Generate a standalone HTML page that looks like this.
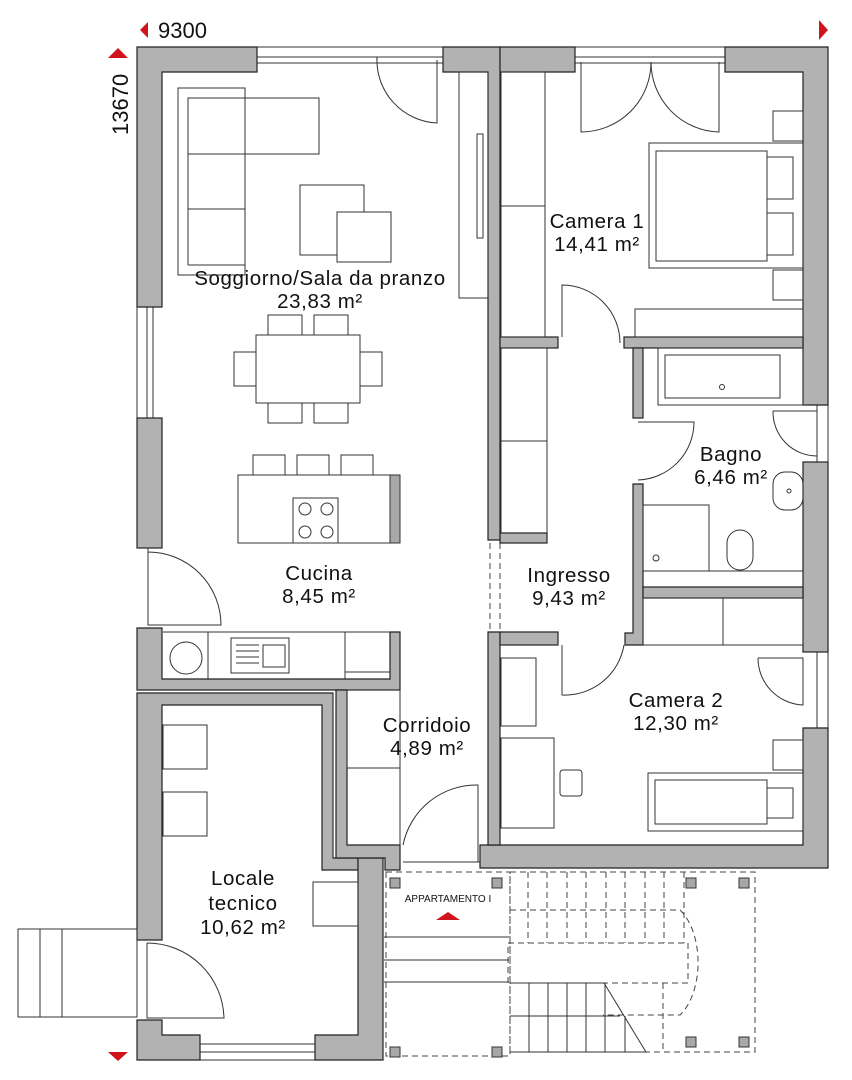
<!DOCTYPE html>
<html><head><meta charset="utf-8"><style>
html,body{margin:0;padding:0;background:#fff}
svg{display:block}
.w{fill:#b2b2b2;stroke:#222;stroke-width:1.2}
.l{fill:none;stroke:#333;stroke-width:1}
.f{fill:#fff;stroke:#333;stroke-width:1}
.d{fill:none;stroke:#444;stroke-width:1;stroke-dasharray:6 4}
.c{fill:#a8a8a8;stroke:#333;stroke-width:1}
text{font-family:"Liberation Sans",sans-serif;fill:#111}
.t{font-size:20.5px;text-anchor:middle;letter-spacing:0.6px}
</style></head><body>
<svg width="852" height="1080" viewBox="0 0 852 1080" xmlns="http://www.w3.org/2000/svg">
<polygon points="148,22 140,30 148,38" fill="#d0141c"/>
<text x="158" y="38" font-size="22">9300</text>
<polygon points="819,20 828,30 819,40" fill="#d0141c"/>
<polygon points="108,58 118,48 128,58" fill="#d0141c"/>
<polygon points="108,1052 118,1061 128,1052" fill="#d0141c"/>
<text transform="translate(128,135) rotate(-90)" font-size="22">13670</text>

<rect class="f" x="257" y="47" width="186" height="16"/>
<line class="l" x1="257" y1="57" x2="443" y2="57"/>
<rect class="f" x="575" y="47" width="150" height="16"/>
<line class="l" x1="575" y1="57" x2="725" y2="57"/>
<rect class="f" x="137" y="307" width="16" height="111"/>
<line class="l" x1="147" y1="307" x2="147" y2="418"/>
<rect class="f" x="817" y="405" width="11" height="57"/>
<rect class="f" x="817" y="652" width="11" height="76"/>
<rect class="f" x="200" y="1044" width="115" height="16"/>
<line class="l" x1="200" y1="1052" x2="315" y2="1052"/>

<path class="w" d="M137,47 H257 V72 H162 V307 H137 Z"/>
<path class="w" d="M443,47 H500 V540 H488 V72 H443 Z"/>
<path class="w" d="M500,47 H575 V72 H500 Z"/>
<path class="w" d="M725,47 H828 V405 H803 V72 H725 Z"/>
<rect class="w" x="803" y="462" width="25" height="190"/>
<path class="w" d="M803,728 H828 V868 H480 V845 H803 Z"/>
<rect class="w" x="137" y="418" width="25" height="130"/>
<path class="w" d="M137,628 H162 V679 H390 V632 H400 V690 H137 Z"/>
<path class="w" d="M137,693 H333 V858 H358 V870 H322 V705 H162 V940 H137 Z"/>
<path class="w" d="M137,1020 H162 V1035 H200 V1060 H137 Z"/>
<path class="w" d="M358,858 H383 V1060 H315 V1035 H358 Z"/>
<path class="w" d="M336,690 H347 V845 H400 V870 H385 V858 H336 Z"/>
<line class="l" x1="333" y1="693" x2="333" y2="858"/>
<path class="w" d="M488,632 H500 V845 H488 Z"/>
<rect class="w" x="500" y="632" width="58" height="13"/>
<rect class="w" x="500" y="337" width="58" height="11"/>
<rect class="w" x="624" y="337" width="179" height="11"/>
<rect class="w" x="633" y="348" width="10" height="70"/>
<path class="w" d="M633,484 H643 V645 H625 V633 H633 Z"/>
<rect class="w" x="643" y="587" width="160" height="11"/>
<line class="d" x1="490" y1="543" x2="490" y2="632"/>
<line class="d" x1="500" y1="543" x2="500" y2="632"/>

<rect class="l" x="178" y="88" width="67" height="187"/>
<rect class="l" x="188" y="98" width="131" height="56"/>
<line class="l" x1="188" y1="98" x2="188" y2="265"/>
<line class="l" x1="188" y1="265" x2="245" y2="265"/>
<line class="l" x1="188" y1="209" x2="245" y2="209"/>
<rect class="l" x="300" y="185" width="64" height="70"/>
<rect class="f" x="337" y="212" width="54" height="50"/>
<rect class="l" x="459" y="72" width="29" height="226"/>
<rect class="l" x="477" y="134" width="6" height="104"/>
<path class="l" d="M377,57 V60 M377,57 A 63 63 0 0 0 437,123 V60"/>
<rect class="f" x="256" y="335" width="104" height="68"/>
<rect class="l" x="268" y="315" width="34" height="20"/>
<rect class="l" x="314" y="315" width="34" height="20"/>
<rect class="l" x="268" y="403" width="34" height="20"/>
<rect class="l" x="314" y="403" width="34" height="20"/>
<rect class="l" x="234" y="352" width="22" height="34"/>
<rect class="l" x="360" y="352" width="22" height="34"/>
<rect class="l" x="238" y="475" width="162" height="68"/>
<rect class="c" x="390" y="475" width="10" height="68"/>
<rect class="l" x="253" y="455" width="32" height="20"/>
<rect class="l" x="297" y="455" width="32" height="20"/>
<rect class="l" x="341" y="455" width="32" height="20"/>
<rect class="l" x="293" y="498" width="45" height="45"/>
<circle class="l" cx="305" cy="509" r="6"/><circle class="l" cx="327" cy="509" r="6"/>
<circle class="l" cx="305" cy="532" r="6"/><circle class="l" cx="327" cy="532" r="6"/>
<path class="l" d="M148,548 V625 H221 A 73 73 0 0 0 148,552"/>
<line class="l" x1="163" y1="632" x2="390" y2="632"/>
<line class="l" x1="208" y1="632" x2="208" y2="679"/>
<circle class="l" cx="186" cy="658" r="16"/>
<rect class="l" x="231" y="638" width="58" height="35"/>
<rect class="l" x="263" y="645" width="22" height="22"/>
<line class="l" x1="236" y1="645" x2="259" y2="645"/><line class="l" x1="236" y1="651" x2="259" y2="651"/>
<line class="l" x1="236" y1="657" x2="259" y2="657"/><line class="l" x1="236" y1="663" x2="259" y2="663"/>
<line class="l" x1="345" y1="632" x2="345" y2="679"/>
<line class="l" x1="345" y1="672" x2="390" y2="672"/>

<rect class="l" x="163" y="725" width="44" height="44"/>
<rect class="l" x="163" y="792" width="44" height="44"/>
<rect class="l" x="313" y="882" width="45" height="44"/>
<path class="l" d="M147,943 V1018 H224 A 77 77 0 0 0 147,943"/>
<rect class="l" x="18" y="929" width="119" height="88"/>
<line class="l" x1="40" y1="929" x2="40" y2="1017"/><line class="l" x1="62" y1="929" x2="62" y2="1017"/>
<rect class="l" x="347" y="690" width="53" height="78"/>
<line class="l" x1="400" y1="690" x2="400" y2="845"/>
<path class="l" d="M403,845 A 75 75 0 0 1 478,785 V862"/>
<line class="l" x1="403" y1="862" x2="480" y2="862"/>

<rect class="l" x="501" y="72" width="44" height="265"/>
<line class="l" x1="501" y1="206" x2="545" y2="206"/>
<path class="l" d="M581,62 V132 A 70 70 0 0 0 651,62 M719,62 V132 A 70 70 0 0 1 651,62"/>
<rect class="l" x="649" y="143" width="154" height="125"/>
<rect class="l" x="656" y="151" width="111" height="110"/>
<rect class="l" x="767" y="157" width="26" height="42"/>
<rect class="l" x="767" y="213" width="26" height="42"/>
<rect class="l" x="773" y="111" width="30" height="30"/>
<rect class="l" x="773" y="270" width="30" height="30"/>
<rect class="l" x="635" y="309" width="168" height="28"/>
<path class="l" d="M562,337 V285 A 58 58 0 0 1 620,343"/>
<rect class="l" x="501" y="348" width="46" height="185"/>
<line class="l" x1="501" y1="441" x2="547" y2="441"/>
<rect class="w" x="500" y="533" width="47" height="10"/>
<rect class="l" x="658" y="348" width="145" height="57"/>
<rect class="l" x="665" y="355" width="115" height="43"/>
<circle class="l" cx="722" cy="387" r="2.5"/>
<path class="l" d="M638,422 H694 A 58 58 0 0 1 638,480"/>
<path class="l" d="M773,411 H817 V456 A 44 44 0 0 1 773,411"/>
<rect class="l" x="773" y="472" width="30" height="38" rx="12"/>
<circle class="l" cx="789" cy="491" r="2"/>
<rect class="l" x="643" y="505" width="66" height="66"/>
<circle class="l" cx="656" cy="558" r="3"/>
<rect class="l" x="727" y="530" width="26" height="40" rx="13"/>
<line class="l" x1="643" y1="571" x2="803" y2="571"/>
<rect class="l" x="643" y="598" width="160" height="47"/>
<line class="l" x1="723" y1="598" x2="723" y2="645"/>
<path class="l" d="M624,645 A 60 60 0 0 1 562,695 V645"/>
<rect class="l" x="501" y="658" width="35" height="68"/>
<rect class="l" x="501" y="738" width="53" height="90"/>
<rect class="l" x="560" y="770" width="22" height="26" rx="3"/>
<path class="l" d="M758,658 H803 V705 A 47 47 0 0 1 758,658"/>
<rect class="l" x="773" y="740" width="30" height="30"/>
<rect class="l" x="648" y="773" width="155" height="58"/>
<rect class="l" x="655" y="780" width="112" height="44"/>
<rect class="l" x="767" y="788" width="26" height="30"/>

<rect class="d" x="386" y="872" width="124" height="184"/>
<line class="l" x1="384" y1="937" x2="509" y2="937"/>
<line class="l" x1="384" y1="960" x2="509" y2="960"/>
<line class="l" x1="384" y1="982" x2="509" y2="982"/>
<text x="448" y="902" font-size="10" text-anchor="middle">APPARTAMENTO I</text>
<polygon points="436,920 448,912 460,920" fill="#d0141c"/>
<rect class="d" x="510" y="872" width="245" height="180"/>
<path class="d" d="M510,910 H680 A 35 60 0 0 1 680,1015 H603"/>
<rect class="d" x="508" y="943" width="180" height="40"/>
<line class="d" x1="528" y1="872" x2="528" y2="943"/><line class="d" x1="547" y1="872" x2="547" y2="943"/>
<line class="d" x1="567" y1="872" x2="567" y2="943"/><line class="d" x1="586" y1="872" x2="586" y2="943"/>
<line class="d" x1="606" y1="872" x2="606" y2="943"/><line class="d" x1="625" y1="872" x2="625" y2="943"/>
<line class="d" x1="645" y1="872" x2="645" y2="943"/><line class="d" x1="664" y1="872" x2="664" y2="943"/>
<line class="d" x1="684" y1="872" x2="684" y2="943"/>
<line class="l" x1="510" y1="983" x2="604" y2="983"/>
<line class="l" x1="510" y1="1016" x2="620" y2="1016"/>
<line class="l" x1="510" y1="1052" x2="646" y2="1052"/>
<line class="l" x1="529" y1="983" x2="529" y2="1052"/><line class="l" x1="548" y1="983" x2="548" y2="1052"/>
<line class="l" x1="567" y1="983" x2="567" y2="1052"/><line class="l" x1="586" y1="983" x2="586" y2="1052"/>
<line class="l" x1="605" y1="983" x2="605" y2="1052"/><line class="l" x1="625" y1="1016" x2="625" y2="1052"/>
<line class="l" x1="604" y1="983" x2="646" y2="1052"/>
<line class="d" x1="663" y1="983" x2="663" y2="1052"/>
<rect class="c" x="390" y="878" width="10" height="10"/><rect class="c" x="492" y="878" width="10" height="10"/>
<rect class="c" x="390" y="1047" width="10" height="10"/><rect class="c" x="492" y="1047" width="10" height="10"/>
<rect class="c" x="686" y="878" width="10" height="10"/><rect class="c" x="739" y="878" width="10" height="10"/>
<rect class="c" x="686" y="1037" width="10" height="10"/><rect class="c" x="739" y="1037" width="10" height="10"/>

<text class="t" x="320" y="285">Soggiorno/Sala da pranzo</text>
<text class="t" x="320" y="308">23,83 m²</text>
<text class="t" x="597" y="228">Camera 1</text>
<text class="t" x="597" y="251">14,41 m²</text>
<text class="t" x="731" y="461">Bagno</text>
<text class="t" x="731" y="484">6,46 m²</text>
<text class="t" x="569" y="582">Ingresso</text>
<text class="t" x="569" y="605">9,43 m²</text>
<text class="t" x="319" y="580">Cucina</text>
<text class="t" x="319" y="603">8,45 m²</text>
<text class="t" x="427" y="732">Corridoio</text>
<text class="t" x="427" y="755">4,89 m²</text>
<text class="t" x="676" y="707">Camera 2</text>
<text class="t" x="676" y="730">12,30 m²</text>
<text class="t" x="243" y="885">Locale</text>
<text class="t" x="243" y="910">tecnico</text>
<text class="t" x="243" y="934">10,62 m²</text>
</svg>
</body></html>
